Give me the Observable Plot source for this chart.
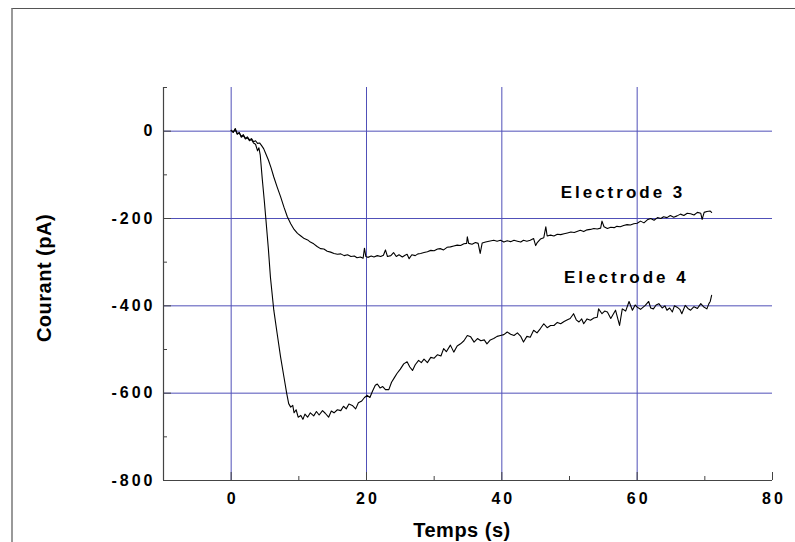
<!DOCTYPE html>
<html><head><meta charset="utf-8">
<script src="https://cdn.jsdelivr.net/npm/d3@7"></script>
<script src="https://cdn.jsdelivr.net/npm/@observablehq/plot@0.6"></script>
<style>
html,body{margin:0;padding:0;background:#fff;overflow:hidden;}
#wrap{position:relative;width:795px;height:542px;}
#border{position:absolute;left:11px;top:8px;width:800px;height:560px;border-top:1.5px solid #555;border-left:2px solid #999;pointer-events:none;}
g[aria-description="ticklabels"] text{letter-spacing:3px;}
g[aria-description="serieslabels"] text{letter-spacing:3px;}
g[aria-description="titles"] text{letter-spacing:0.5px;}
</style></head><body><div id="wrap"><div id="chart"></div><div id="border"></div></div>
<script>
// Time (s), current (pA)
const electrode3 = [[0,2],[0.3,-3],[0.6,6],[0.9,-6],[1.2,-4],[1.5,-12],[1.8,-8],[2.1,-16],[2.4,-13],[2.7,-20],[3.0,-17],[3.3,-24],[3.6,-22],[3.9,-28],[4.2,-27],[4.5,-33],[4.8,-40],[5.1,-51],[5.5,-66],[5.9,-84],[6.3,-105],[6.8,-128],[7.3,-150],[7.8,-174],[8.3,-196],[8.8,-212],[9.3,-225],[9.8,-234],[10.3,-240],[10.8,-246],[11.3,-249],[11.7,-254],[12.2,-258],[12.7,-264],[13.2,-269],[13.7,-270],[14.2,-275],[14.7,-277],[15.2,-280],[15.7,-282],[16.2,-281],[16.7,-285],[17.2,-283],[17.7,-287],[18.2,-286],[18.6,-290],[19.1,-288],[19.5,-291],[19.7,-268],[19.9,-287],[20.2,-289],[20.7,-286],[21.1,-288],[21.6,-285],[22.1,-287],[22.5,-284],[22.8,-272],[23.1,-287],[23.6,-285],[24.0,-278],[24.4,-287],[24.8,-283],[25.3,-288],[25.7,-284],[26.0,-282],[26.3,-292],[26.7,-283],[27.2,-285],[27.6,-281],[28.0,-280],[28.5,-278],[29.0,-276],[29.5,-273],[30.0,-274],[30.5,-270],[30.9,-269],[31.4,-272],[31.9,-266],[32.4,-265],[32.9,-263],[33.4,-261],[33.9,-262],[34.4,-258],[34.8,-257],[34.9,-242],[35.1,-257],[35.6,-259],[36.1,-255],[36.5,-257],[36.8,-280],[37.1,-256],[37.6,-254],[38.1,-252],[38.8,-250],[39.3,-252],[39.8,-250],[40.3,-254],[40.8,-251],[41.3,-253],[41.8,-250],[42.3,-252],[42.8,-254],[43.2,-250],[43.7,-252],[44.2,-250],[44.7,-246],[45.0,-262],[45.2,-256],[45.7,-247],[46.2,-244],[46.5,-219],[46.7,-240],[47.2,-238],[47.7,-240],[48.2,-236],[48.7,-237],[49.2,-235],[49.7,-233],[50.2,-231],[50.7,-232],[51.2,-229],[51.6,-227],[52.1,-230],[52.6,-226],[53.1,-225],[53.6,-223],[54.1,-224],[54.6,-222],[54.8,-206],[55.1,-219],[55.6,-223],[56.1,-220],[56.6,-221],[57.0,-218],[57.5,-219],[58.0,-216],[58.5,-214],[59.0,-215],[59.5,-212],[60.0,-211],[60.5,-206],[61.0,-210],[61.5,-203],[62.0,-200],[62.5,-204],[63.0,-198],[63.5,-200],[63.9,-196],[64.4,-198],[64.9,-193],[65.4,-197],[65.9,-194],[66.4,-190],[66.9,-193],[67.4,-188],[67.9,-189],[68.4,-192],[68.9,-186],[69.4,-188],[69.6,-202],[69.9,-186],[70.3,-184],[70.8,-183],[71.0,-186]];
const electrode4 = [[0,2],[0.3,-2],[0.6,4],[0.9,-7],[1.2,-3],[1.5,-14],[1.8,-10],[2.1,-18],[2.4,-15],[2.7,-22],[3.0,-19],[3.3,-27],[3.6,-30],[3.9,-45],[4.1,-38],[4.3,-55],[4.6,-110],[4.9,-160],[5.1,-196],[5.5,-270],[5.8,-334],[6.3,-410],[6.8,-464],[7.3,-517],[7.8,-563],[8.2,-600],[8.5,-624],[8.8,-632],[9.1,-628],[9.3,-645],[9.6,-638],[9.9,-655],[10.3,-651],[10.6,-660],[10.9,-648],[11.3,-655],[11.7,-645],[12.2,-652],[12.6,-642],[13.0,-650],[13.5,-640],[13.9,-646],[14.4,-655],[14.8,-641],[15.2,-645],[15.7,-638],[16.2,-640],[16.6,-630],[17.0,-636],[17.4,-625],[17.9,-628],[18.4,-636],[18.8,-622],[19.3,-618],[19.7,-610],[20.1,-605],[20.5,-610],[20.9,-595],[21.3,-582],[21.6,-579],[22.0,-588],[22.4,-585],[22.8,-592],[23.3,-592],[23.7,-575],[24.1,-565],[24.5,-555],[25.0,-545],[25.5,-533],[26.0,-528],[26.4,-540],[26.8,-548],[27.2,-535],[27.7,-525],[28.1,-530],[28.5,-522],[29.0,-530],[29.5,-518],[30.0,-520],[30.5,-512],[31.0,-515],[31.4,-498],[31.8,-505],[32.4,-490],[32.9,-506],[33.4,-492],[33.9,-487],[34.4,-480],[34.9,-468],[35.4,-471],[35.9,-483],[36.4,-475],[36.9,-480],[37.4,-478],[37.8,-487],[38.3,-478],[38.8,-475],[39.3,-470],[39.8,-468],[40.3,-466],[40.8,-460],[41.3,-465],[41.8,-468],[42.3,-462],[42.8,-470],[43.2,-483],[43.7,-470],[44.2,-472],[44.7,-456],[45.2,-462],[45.7,-452],[46.2,-441],[46.7,-450],[47.2,-445],[47.7,-445],[48.2,-438],[48.7,-441],[49.2,-436],[49.7,-432],[50.1,-429],[50.6,-418],[51.0,-432],[51.4,-437],[51.8,-430],[52.1,-441],[52.6,-430],[53.1,-433],[53.6,-428],[54.1,-426],[54.3,-407],[54.8,-418],[55.2,-412],[55.6,-414],[56.1,-429],[56.8,-410],[57.4,-445],[57.8,-407],[58.3,-412],[58.8,-390],[59.3,-410],[59.7,-398],[60.0,-403],[60.5,-408],[61.2,-399],[61.7,-390],[62.0,-405],[62.4,-407],[62.8,-398],[63.2,-395],[63.7,-405],[64.1,-400],[64.4,-410],[64.8,-405],[65.2,-414],[65.5,-400],[65.9,-403],[66.3,-408],[66.6,-418],[67.1,-399],[67.5,-406],[67.9,-410],[68.4,-402],[68.9,-406],[69.4,-395],[69.8,-402],[70.3,-407],[70.6,-395],[70.8,-390],[71.0,-376]];

const xTicks = [0, 20, 40, 60, 80];
const xMinorTicks = [-10, 10, 30, 50, 70];
const yTicks = [0, -200, -400, -600, -800];
const yMinorTicks = [100, -100, -300, -500, -700];
const xGrid = [0, 20, 40, 60];
const yGrid = [0, -200, -400, -600];
const seriesNames = ["Electrode 3", "Electrode 4"];
const seriesLabelAt = [[57.9, -140], [58.4, -335]];
const xTitle = "Temps (s)";
const yTitle = "Courant (pA)";

const rows3 = electrode3.map(([t, v]) => ({t, v}));
const rows4 = electrode4.map(([t, v]) => ({t, v}));
const labelRows = seriesNames.map((name, i) => ({name, t: seriesLabelAt[i][0], v: seriesLabelAt[i][1]}));

const gridColor = "#5050b8";
const axisColor = "#444";
const font = "'Liberation Sans', Arial, Helvetica, sans-serif";

const chart = Plot.plot({
  width: 795,
  height: 542,
  marginLeft: 163,
  marginRight: 23,
  marginTop: 87,
  marginBottom: 62,
  x: {domain: [-10, 80]},
  y: {domain: [-800, 100]},
  style: {fontFamily: font, background: "transparent", color: "#000"},
  marks: [
    Plot.ruleY(yGrid, {y: d => d, stroke: gridColor, strokeWidth: 1}),
    Plot.ruleX(xGrid, {x: d => d, stroke: gridColor, strokeWidth: 1}),
    Plot.axisY(yMinorTicks, {tickSize: -4, fill: "none", stroke: axisColor, label: null}),
    Plot.axisY(yTicks, {tickSize: -8, fill: "none", stroke: axisColor, label: null}),
    Plot.axisX(xMinorTicks, {tickSize: -4, fill: "none", stroke: axisColor, label: null}),
    Plot.axisX(xTicks, {tickSize: -8, fill: "none", stroke: axisColor, label: null}),
    Plot.ruleX([-10], {y1: -800, y2: 100, stroke: axisColor, strokeWidth: 1.2}),
    Plot.ruleY([-800], {x1: -10, x2: 80, stroke: axisColor, strokeWidth: 1.2}),
    Plot.line(rows3, {x: "t", y: "v", stroke: "#000", strokeWidth: 1.1}),
    Plot.line(rows4, {x: "t", y: "v", stroke: "#000", strokeWidth: 1.1}),
    Plot.text(yTicks, {y: d => d, text: d => String(d), frameAnchor: "left", textAnchor: "end", dx: -8, fontSize: 16, fontWeight: "bold", fill: "#000", ariaDescription: "ticklabels"}),
    Plot.text(xTicks, {x: d => d, text: d => String(d), frameAnchor: "bottom", dy: 18, dx: 1.5, lineAnchor: "middle", fontSize: 16, fontWeight: "bold", fill: "#000", ariaDescription: "ticklabels"}),
    Plot.text(labelRows, {x: "t", y: "v", text: "name", fontSize: 17, fontWeight: "bold", fill: "#000", lineAnchor: "middle", ariaDescription: "serieslabels"}),
    Plot.text([xTitle], {frameAnchor: "bottom", dx: -6, dy: 50, lineAnchor: "middle", fontSize: 20, fontWeight: "bold", fill: "#000", ariaDescription: "titles"}),
    Plot.text([yTitle], {frameAnchor: "left", textAnchor: "middle", rotate: -90, dx: -119, dy: -6, lineAnchor: "middle", fontSize: 20, fontWeight: "bold", fill: "#000", ariaDescription: "titles"})
  ]
});
document.getElementById("chart").appendChild(chart);
</script>
</body></html>
